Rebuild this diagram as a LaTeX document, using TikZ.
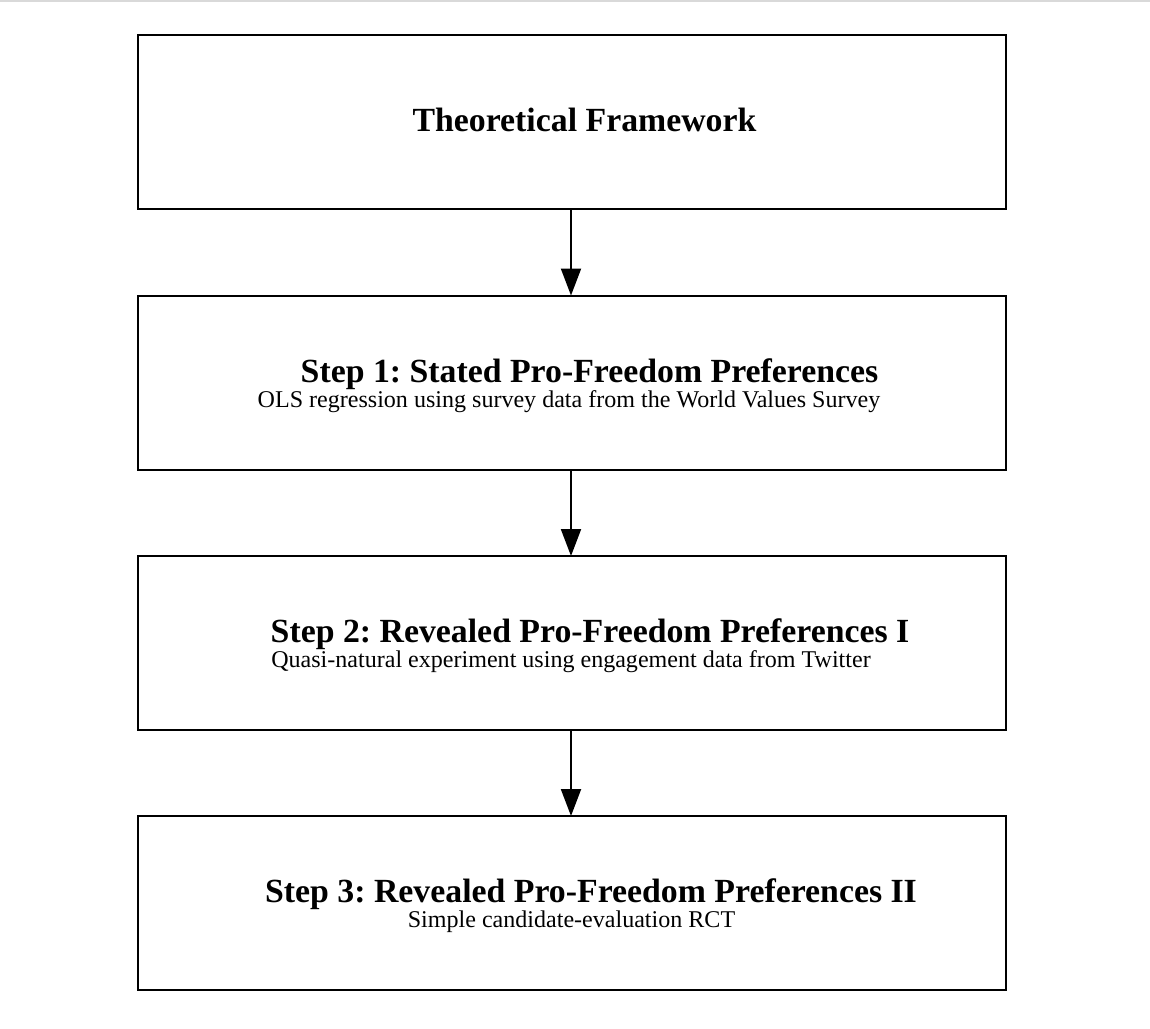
\documentclass[tikz,border=0pt]{standalone}
\usepackage{fontspec}
\setmainfont{Liberation Serif}
\usetikzlibrary{arrows.meta}
\frenchspacing
\begin{document}
\begin{tikzpicture}[x=1pt,y=-1pt,
  stepbox/.style={draw=black,line width=2pt,minimum width=868pt,minimum height=174pt,inner sep=0pt,outer sep=0pt},
  ttl/.style={anchor=base,inner sep=0pt,font=\fontsize{33.8}{36}\selectfont\bfseries\frenchspacing},
  sub/.style={anchor=base,inner sep=0pt,font=\fontsize{24.05}{26}\selectfont\frenchspacing},
  conn/.style={line width=2pt,-{Triangle[length=27pt,width=20pt]}}]
\useasboundingbox (0,0) rectangle (1150,1028);
\fill[white] (0,0) rectangle (1150,1028);
\draw[line width=1.5pt,color=black!15] (0,1) -- (1150,1);
\node[stepbox] (b0) at (572,122) {};
\node[stepbox] (b1) at (572,382.5) {};
\node[stepbox] (b2) at (572,643) {};
\node[stepbox] (b3) at (572,903) {};
\node[ttl] (t0) at (584.5,131) {Theoretical Framework};
\node[ttl] (t1) at (589.5,382) {Step 1: Stated Pro-Freedom Preferences};
\node[sub] (s1) at (569,407) {OLS regression using survey data from the World Values Survey};
\node[ttl] (t2) at (590,642) {Step 2: Revealed Pro-Freedom Preferences I};
\node[sub] (s2) at (571,667) {Quasi-natural experiment using engagement data from Twitter};
\node[ttl] (t3) at (591,902) {Step 3: Revealed Pro-Freedom Preferences II};
\node[sub] (s3) at (571.5,927) {Simple candidate-evaluation RCT};
\draw[conn] (b0.south -| 571,0) -- (b1.north -| 571,0);
\draw[conn] (b1.south -| 571,0) -- (b2.north -| 571,0);
\draw[conn] (b2.south -| 571,0) -- (b3.north -| 571,0);
\end{tikzpicture}
\end{document}
